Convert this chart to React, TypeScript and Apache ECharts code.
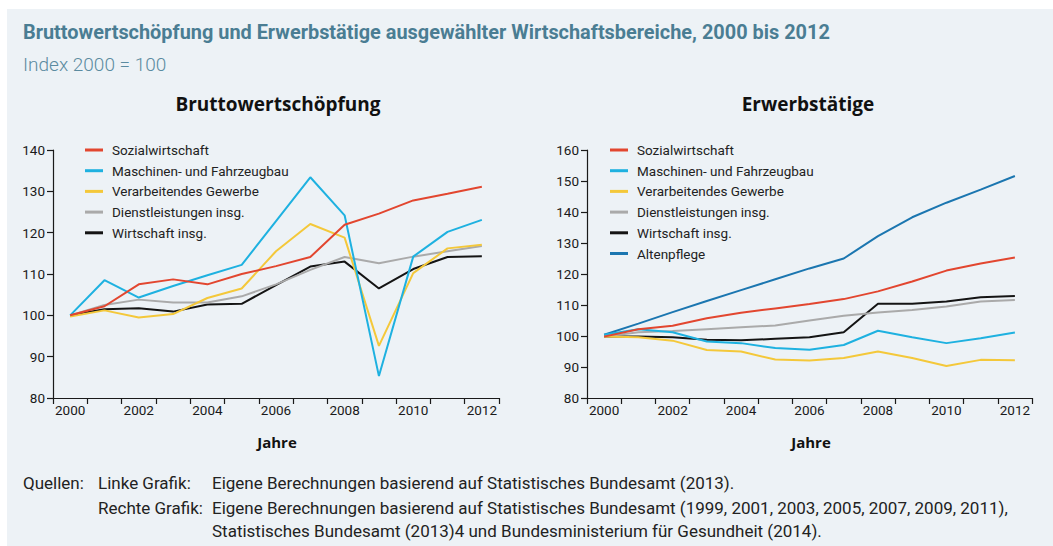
import React, { useEffect, useRef } from "react";
import * as echarts from "echarts";

const years = ["2000","2001","2002","2003","2004","2005","2006","2007","2008","2009","2010","2011","2012"];

const seriesNames = ["Sozialwirtschaft", "Maschinen- und Fahrzeugbau", "Verarbeitendes Gewerbe", "Dienstleistungen insg.", "Wirtschaft insg.", "Altenpflege"];
const seriesColors = ["#e2462f", "#1eb1e0", "#f4c83a", "#aaaaaa", "#141414", "#1b76b0"];

// Bruttowertschöpfung (left)
const bwsSozial = [100, 102.2, 107.5, 108.7, 107.5, 110, 111.9, 114.1, 121.9, 124.6, 127.8, 129.4, 131.1];
const bwsMaschinen = [100, 108.5, 104.3, 107.1, 109.7, 112.2, 122.8, 133.4, 124.2, 85.3, 114.2, 120.2, 123.1];
const bwsVerarb = [99.7, 101.2, 99.5, 100.3, 104.2, 106.5, 115.5, 122.1, 118.8, 92.6, 110.2, 116.2, 117.1];
const bwsDienst = [100, 102.5, 103.8, 103.1, 103.1, 104.6, 107.5, 111, 114.1, 112.6, 114.2, 115.5, 116.8];
const bwsWirtschaft = [100, 101.5, 101.7, 100.9, 102.6, 102.8, 107.3, 111.8, 113, 106.5, 111.2, 114.1, 114.3];

// Erwerbstätige (right)
const etSozial = [99.8, 102.2, 103.3, 105.7, 107.5, 108.9, 110.3, 111.9, 114.4, 117.6, 121.1, 123.4, 125.3];
const etMaschinen = [100.4, 102.2, 101.2, 98.2, 97.7, 96.1, 95.6, 97.1, 101.7, 99.6, 97.7, 99.3, 101.1];
const etVerarb = [99.8, 99.6, 98.5, 95.5, 95, 92.4, 92.1, 92.9, 95, 92.9, 90.3, 92.3, 92.2];
const etDienst = [99.8, 101.2, 101.6, 102.2, 102.8, 103.4, 105, 106.5, 107.6, 108.4, 109.5, 111.1, 111.6];
const etWirtschaft = [99.8, 99.8, 99.6, 98.8, 98.6, 99.1, 99.6, 101.2, 110.4, 110.4, 111.1, 112.5, 112.9];
const etAltenpflege = [100.4, 104, 107.7, 111.3, 114.8, 118.3, 121.8, 125, 132.2, 138.3, 143, 147.2, 151.6];

const leftData = [bwsSozial, bwsMaschinen, bwsVerarb, bwsDienst, bwsWirtschaft];
const rightData = [etSozial, etMaschinen, etVerarb, etDienst, etWirtschaft, etAltenpflege];

const leftY = { min: 80, max: 140, interval: 10 };
const rightY = { min: 80, max: 160, interval: 10 };

const FONT = "Roboto, 'Open Sans', sans-serif";
const FONT_WIDE = "'Open Sans', sans-serif";
const TITLE_COLOR = "#4a7d93";

export default function App() {
  const ref = useRef<HTMLDivElement>(null);
  useEffect(() => {
    if (!ref.current) return;
    const chart = echarts.init(ref.current, undefined, { renderer: "svg" });

    const xAxisBase = (gridIndex: number) => ({
      type: "category",
      gridIndex,
      data: years,
      boundaryGap: true,
      axisLine: { show: true, lineStyle: { color: "#1a1a1a", width: 1.2 } },
      axisTick: { show: true, interval: 0, alignWithLabel: false, length: 6, lineStyle: { color: "#1a1a1a", width: 1.2 } },
      axisLabel: { interval: 1, margin: 5, color: "#1a1a1a", fontSize: 13.5, fontFamily: FONT },
      splitLine: { show: false },
    });
    const yAxisBase = (gridIndex: number, r: { min: number; max: number; interval: number }) => ({
      type: "value",
      gridIndex,
      min: r.min,
      max: r.max,
      interval: r.interval,
      axisLine: { show: true, lineStyle: { color: "#1a1a1a", width: 1.2 } },
      axisTick: { show: true, length: 6, lineStyle: { color: "#1a1a1a", width: 1.2 } },
      axisLabel: { margin: 8, color: "#1a1a1a", fontSize: 13.5, fontFamily: FONT },
      splitLine: { show: false },
    });

    const series: any[] = [];
    leftData.forEach((d, i) => {
      series.push({
        name: seriesNames[i], type: "line", xAxisIndex: 0, yAxisIndex: 0, data: d,
        symbol: "none", lineStyle: { width: 2, color: seriesColors[i] }, itemStyle: { color: seriesColors[i] },
        z: 10 - i,
      });
    });
    rightData.forEach((d, i) => {
      series.push({
        name: seriesNames[i], type: "line", xAxisIndex: 1, yAxisIndex: 1, data: d,
        symbol: "none", lineStyle: { width: 2, color: seriesColors[i] }, itemStyle: { color: seriesColors[i] },
        z: 10 - i,
      });
    });

    const legendBase = (left: number, names: string[]) => ({
      left, top: 143, orient: "vertical", padding: 0, itemGap: 6.7,
      icon: "rect", itemWidth: 18, itemHeight: 3,
      selectedMode: false,
      data: names,
      textStyle: { fontSize: 13.5, lineHeight: 14, color: "#222", fontFamily: FONT, padding: [0, 0, 0, 4] },
    });

    const text = (x: number, y: number, t: string, fs: number, color: string, weight: string, align = "left", family = FONT) => ({
      type: "text", x, y,
      style: { text: t, fontSize: fs, fill: color, fontWeight: weight, fontFamily: family, textAlign: align, textVerticalAlign: "middle" },
    });

    chart.setOption({
      animation: false,
      backgroundColor: "#ffffff",
      grid: [
        { left: 53, top: 150, width: 446, height: 248 },
        { left: 587, top: 150, width: 445, height: 248 },
      ],
      xAxis: [xAxisBase(0), xAxisBase(1)],
      yAxis: [yAxisBase(0, leftY), yAxisBase(1, rightY)],
      legend: [legendBase(85, seriesNames.slice(0, 5)), legendBase(610, seriesNames)],
      series,
      graphic: [
        { type: "rect", shape: { x: 7, y: 9, width: 1046, height: 537 }, style: { fill: "#edf2f6" }, z: -10, silent: true },
        text(23, 32, "Bruttowertschöpfung und Erwerbstätige ausgewählter Wirtschaftsbereiche, 2000 bis 2012", 19.9, TITLE_COLOR, "bold"),
        text(23, 64, "Index 2000 = 100", 19, "#5b8ba0", "300"),
        text(278, 104, "Bruttowertschöpfung", 19, "#111", "bold", "center", FONT_WIDE),
        text(808, 104, "Erwerbstätige", 19, "#111", "bold", "center", FONT_WIDE),
        text(277, 442, "Jahre", 15, "#111", "bold", "center", FONT_WIDE),
        text(811, 442, "Jahre", 15, "#111", "bold", "center", FONT_WIDE),
        text(23, 483, "Quellen:", 17, "#222", "normal"),
        text(98, 483, "Linke Grafik:", 17, "#222", "normal"),
        text(212, 483, "Eigene Berechnungen basierend auf Statistisches Bundesamt (2013).", 17, "#222", "normal"),
        text(98, 508, "Rechte Grafik:", 17, "#222", "normal"),
        text(212, 508, "Eigene Berechnungen basierend auf Statistisches Bundesamt (1999, 2001, 2003, 2005, 2007, 2009, 2011),", 17, "#222", "normal"),
        text(212, 531, "Statistisches Bundesamt (2013)4 und Bundesministerium für Gesundheit (2014).", 17, "#222", "normal"),
      ],
    });
    return () => chart.dispose();
  }, []);
  return <div ref={ref} style={{ position: "fixed", left: 0, top: 0, width: 1053, height: 546 }} />;
}
